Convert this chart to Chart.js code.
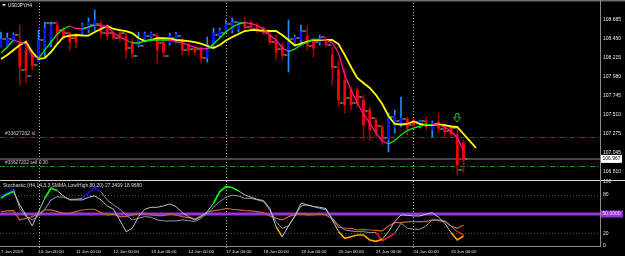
<!DOCTYPE html>
<html>
<head>
<meta charset="utf-8">
<script src="https://cdn.jsdelivr.net/npm/chart.js@4.4.1/dist/chart.umd.min.js"></script>
<style>
  html, body { margin: 0; padding: 0; background: #000; overflow: hidden; }
  #wrap { position: relative; width: 625px; height: 256px; background: #000; }
  #main { position: absolute; left: 0; top: 0; }
  #sub { position: absolute; left: 0; top: 176px; }
</style>
</head>
<body>
<div id="wrap">
  <canvas id="main" width="625" height="181"></canvas>
  <canvas id="sub" width="625" height="80"></canvas>
</div>
<script>
// USDJPY H4, 7 Jun - 25 Jun 2019, one entry per bar
var dayLabels = ['7 Jun 2019', '10 Jun 00:00', '11 Jun 00:00', '12 Jun 00:00', '13 Jun 00:00', '14 Jun 00:00',
  '17 Jun 00:00', '18 Jun 00:00', '19 Jun 00:00', '20 Jun 00:00', '21 Jun 00:00', '24 Jun 00:00', '25 Jun 00:00'];
var dayStartBars = [0, 6, 12, 18, 24, 30, 36, 42, 48, 54, 60, 66, 72];
var weekStartBars = [6, 36, 66];
var priceTicks = [108.685, 108.450, 108.215, 107.980, 107.745, 107.510, 107.275, 107.045, 106.810];
var stochTicks = [0, 20, 50, 80, 100];

var haOpen = [108.351,108.351,108.413,108.401,108.314,108.252,108.166,108.289,108.438,108.623,
  108.574,108.524,108.500,108.524,108.561,108.598,108.636,108.586,108.524,108.524,
  108.487,108.413,108.376,108.438,108.475,108.487,108.413,108.401,108.438,108.438,
  108.388,108.351,108.339,108.215,108.376,108.487,108.561,108.561,108.574,108.660,
  108.648,108.623,108.586,108.500,108.438,108.364,108.314,108.401,108.438,108.487,
  108.438,108.413,108.450,108.252,108.067,107.943,107.819,107.819,107.696,107.572,
  107.448,107.362,107.201,107.349,107.386,107.461,107.448,107.374,107.436,107.325,
  107.424,107.386,107.362,107.263,107.164];
var haHigh = [108.537,108.524,108.524,108.623,108.438,108.289,108.561,108.660,108.660,108.673,
  108.598,108.537,108.524,108.648,108.710,108.809,108.685,108.623,108.537,108.537,
  108.524,108.462,108.537,108.537,108.537,108.524,108.438,108.524,108.537,108.462,
  108.401,108.351,108.351,108.475,108.586,108.586,108.685,108.710,108.660,108.722,
  108.685,108.648,108.598,108.537,108.500,108.401,108.685,108.500,108.623,108.611,
  108.462,108.500,108.475,108.351,108.190,108.091,107.856,107.844,107.757,107.609,
  107.473,107.386,107.535,107.572,107.733,107.485,107.473,107.448,107.485,107.436,
  107.535,107.411,107.386,107.349,107.201];
var haLow = [108.351,108.351,108.413,107.881,107.906,108.067,108.166,108.215,108.351,108.401,
  108.438,108.314,108.339,108.500,108.524,108.561,108.462,108.438,108.438,108.413,
  108.215,108.215,108.351,108.413,108.462,108.153,108.228,108.376,108.401,108.252,
  108.252,108.252,108.153,108.166,108.339,108.462,108.537,108.524,108.537,108.561,
  108.561,108.524,108.500,108.376,108.190,108.190,108.042,108.376,108.401,108.314,
  108.228,108.376,108.351,107.881,107.609,107.535,107.572,107.609,107.201,107.201,
  107.238,107.139,107.052,107.288,107.362,107.263,107.362,107.349,107.325,107.238,
  107.300,107.238,107.238,106.768,106.793];
var haClose = [108.450,108.462,108.500,108.104,108.067,108.129,108.438,108.586,108.623,108.500,
  108.487,108.413,108.413,108.623,108.660,108.685,108.524,108.487,108.462,108.462,
  108.314,108.277,108.462,108.512,108.524,108.314,108.289,108.487,108.512,108.314,
  108.314,108.289,108.215,108.376,108.524,108.561,108.636,108.660,108.648,108.586,
  108.586,108.549,108.524,108.413,108.289,108.252,108.413,108.475,108.537,108.376,
  108.339,108.462,108.388,108.091,107.696,107.634,107.634,107.659,107.386,107.325,
  107.300,107.201,107.473,107.510,107.473,107.349,107.386,107.436,107.362,107.411,
  107.349,107.300,107.275,106.891,106.953];
var barClose = [108.450,108.450,108.500,108.067,107.992,108.129,108.438,108.648,108.648,108.561,
  108.524,108.462,108.500,108.586,108.623,108.636,108.524,108.524,108.462,108.524,
  108.339,108.240,108.364,108.487,108.500,108.401,108.240,108.462,108.487,108.314,
  108.326,108.326,108.215,108.339,108.500,108.524,108.636,108.660,108.648,108.598,
  108.574,108.549,108.524,108.413,108.326,108.252,108.450,108.462,108.549,108.364,
  108.413,108.475,108.376,108.104,107.659,107.720,107.659,107.733,107.560,107.473,
  107.374,107.226,107.485,107.436,107.461,107.386,107.424,107.436,107.386,107.399,
  107.337,107.312,107.349,106.830,106.967];
var fastMA = [108.277,108.351,108.438,108.413,108.388,108.240,108.209,108.314,108.413,108.512,
  108.574,108.611,108.580,108.574,108.598,108.623,108.617,108.605,108.524,108.475,
  108.438,108.401,108.401,108.425,108.438,108.438,108.438,108.438,108.419,108.401,
  108.376,108.351,108.332,108.330,108.388,108.462,108.537,108.598,108.636,108.652,
  108.642,108.617,108.574,108.500,108.438,108.339,108.295,108.326,108.376,108.413,
  108.444,108.444,108.438,108.401,108.277,108.005,107.819,107.659,107.522,107.411,
  107.288,107.189,107.152,107.195,107.263,107.318,107.349,107.368,107.392,107.392,
  107.386,107.362,107.312,107.226,107.077];
// slow MA is shifted 2 bars forward
var slowMA = [108.203,108.252,108.314,108.376,108.413,108.289,108.203,108.215,108.289,108.388,
  108.475,108.493,108.500,108.493,108.493,108.537,108.574,108.611,108.574,108.561,
  108.549,108.524,108.462,108.425,108.438,108.462,108.462,108.456,108.438,108.432,
  108.425,108.413,108.394,108.364,108.339,108.376,108.432,108.475,108.512,108.549,
  108.561,108.561,108.555,108.549,108.549,108.500,108.438,108.370,108.394,108.419,
  108.438,108.438,108.438,108.438,108.388,108.252,108.104,107.968,107.906,107.844,
  107.757,107.646,107.498,107.399,107.393,107.399,107.430,107.399,107.386,107.386,
  107.393,107.386,107.368,107.362,107.275,107.189,107.102];

var slPrice = 107.238;
var sellPrice = 106.879;
var bidPrice = 106.967;
var sellArrowBar = 73;
var sellArrowPrice = 107.473;

var stochMain = [75,81,85,64.2,48.5,31.3,53.7,74.6,90.2,86.6,
  78,72,72,72,76.2,78.2,72,62.6,57.4,40.7,
  22.4,27.7,45.9,57.4,60.5,60.5,62.6,65.7,61.6,52.2,
  45.9,40.7,45.9,53.7,66.8,85,92.8,91.3,86.1,79.8,
  76.2,73,70.9,58.9,30.3,14.6,31.3,46.9,66.8,64.2,
  61.6,60.5,58.4,40.7,22.4,12,14.6,17.2,17.2,9.4,
  7.3,10.4,22.4,38.1,48.5,48,46.9,46.9,49.6,52.2,
  44.9,35.5,21,9.4,15.6];
var stochSignal = [78,82.4,88.7,58.9,45.9,40.7,46.9,57.4,72,77,
  76.2,73,73,74.6,83.5,90.2,85,72,64.2,57.4,
  48.5,40.7,43.3,45.9,44.9,40.7,39.1,39.1,39.1,40.7,
  39.6,38.1,43.3,51.1,60.5,69.4,76.2,79.3,78.2,74.6,
  74.6,72,69.4,56.3,38.1,27.7,31.3,45.9,62.6,64.2,
  61.6,58.9,56.3,43.3,32.9,25,23.5,22.4,22.4,20.9,
  21,8.3,13.6,19.8,35.5,27.7,26.1,26.1,31.3,40.7,
  40.7,39.1,31.3,22.4,17.2];
var stochSlow = [53.7,54.8,55.3,40.7,43.3,45.9,50.1,56.3,56.3,53.7,
  51.1,51.1,53.7,56.3,57.4,57.4,52.2,48.5,49.6,45.9,
  45.9,48.5,50.1,51.1,48.5,47.5,47.5,50.1,48.5,45.9,
  44.3,42.3,46.9,52.7,55.3,56.3,58.9,57.4,56.3,55.3,
  54.8,53.7,52.2,46.9,43.3,40.7,45.9,49,50.6,48.5,
  49,50.1,48.5,42.3,29.2,27.7,27.7,25,26.1,25,
  24.5,23.5,31.3,36.5,36.5,37.6,38.1,38.1,38.1,40.7,
  39.6,38.1,31.3,27.7,32.9];
var stochUpper = 80, stochMid = 50, stochLower = 20;
var stochTitle = 'Stochastic (H4,14,3,3,SMMA,Low/High,80,20) 27.3499 18.9680';

var FONT = '"Liberation Sans", Arial, sans-serif';
var xMin = -0.16, xMax = 95.84;

function pts(arr) {
  return arr.map(function (v, i) { return {x: i, y: v}; });
}
function txt(ctx, s, x, y, color, size, maxW) {
  ctx.save();
  ctx.font = size + 'px ' + FONT;
  ctx.fillStyle = color;
  ctx.textBaseline = 'middle';
  ctx.textAlign = 'left';
  if (maxW) ctx.fillText(s, x, y, maxW); else ctx.fillText(s, x, y);
  ctx.restore();
}
function hline(ctx, y, x0, x1, color, width, dash) {
  ctx.save();
  ctx.strokeStyle = color;
  ctx.lineWidth = width;
  ctx.setLineDash(dash || []);
  ctx.beginPath();
  ctx.moveTo(x0, y);
  ctx.lineTo(x1, y);
  ctx.stroke();
  ctx.restore();
}
function weekLines(chart, y0, y1) {
  var ctx = chart.ctx, xs = chart.scales.x;
  ctx.save();
  ctx.strokeStyle = '#b4b4b4';
  ctx.lineWidth = 1;
  ctx.setLineDash([1, 2]);
  weekStartBars.forEach(function (b) {
    var x = Math.round(xs.getPixelForValue(b)) + 0.5;
    ctx.beginPath();
    ctx.moveTo(x, y0);
    ctx.lineTo(x, y1);
    ctx.stroke();
  });
  ctx.restore();
}
// keep the plot area exactly where the layout puts it
function noLabelPad(s) {
  s.paddingTop = 0; s.paddingBottom = 0; s.paddingLeft = 0; s.paddingRight = 0;
}

var bull = haClose.map(function (c, i) { return c >= haOpen[i]; });

// hollow green sell arrow
var arrowImg = document.createElement('canvas');
arrowImg.width = 8; arrowImg.height = 10;
var ac = arrowImg.getContext('2d');
ac.strokeStyle = '#1fc21f';
ac.lineWidth = 1;
ac.beginPath();
ac.moveTo(2.5, 0.5); ac.lineTo(5.5, 0.5); ac.lineTo(5.5, 4.5); ac.lineTo(7.5, 4.5);
ac.lineTo(4, 9); ac.lineTo(0.5, 4.5); ac.lineTo(2.5, 4.5); ac.closePath();
ac.stroke();

var mainDecor = {
  id: 'mainDecor',
  beforeDatasetsDraw: function (chart) {
    var ctx = chart.ctx, ys = chart.scales.y;
    weekLines(chart, 0, 181);
    hline(ctx, Math.round(ys.getPixelForValue(slPrice)) + 0.5, 0, 600, '#a01c1c', 1, [5, 2, 1, 2]);
    hline(ctx, Math.round(ys.getPixelForValue(sellPrice)) + 0.5, 0, 600, '#14a014', 1, [5, 2, 1, 2]);
    hline(ctx, ys.getPixelForValue(bidPrice), 0, 600, '#464646', 2);
  },
  afterDraw: function (chart) {
    var ctx = chart.ctx, ys = chart.scales.y;
    txt(ctx, '#33627202 sl', 5, ys.getPixelForValue(slPrice) - 3, '#c8c8c8', 5);
    txt(ctx, '#33627202 sell 0.30', 5, ys.getPixelForValue(sellPrice) - 3, '#c8c8c8', 5, 43);
    // title
    ctx.fillStyle = '#e0e0e0';
    ctx.beginPath(); ctx.moveTo(2, 4); ctx.lineTo(6, 4); ctx.lineTo(4, 6.5); ctx.closePath(); ctx.fill();
    txt(ctx, 'USDJPY,H4', 8, 5.5, '#e8e8e8', 5, 24);
    // frame
    ctx.fillStyle = '#6e6e6e';
    ctx.fillRect(0, 0, 625, 1.5);
    ctx.fillStyle = '#8c8c8c';
    ctx.fillRect(600, 0, 1, 181);
    ctx.fillStyle = '#d4d4d4';
    ctx.fillRect(0, 180, 625, 1);
    // bid label
    var by = ys.getPixelForValue(bidPrice);
    ctx.fillStyle = '#ffffff';
    ctx.fillRect(601, by - 4, 21, 8);
    txt(ctx, bidPrice.toFixed(3), 602.5, by, '#000000', 5, 18);
  }
};

new Chart(document.getElementById('main'), {
  type: 'bar',
  data: {
    datasets: [
      {
        type: 'line', showLine: false, order: 8,
        data: barClose.slice(0, -1).map(function (v, i) { return {x: i + 1 - 0.36, y: v}; }),
        pointStyle: 'line', pointRadius: 1.4, pointBorderWidth: 1, pointBorderColor: '#9a9a9a'
      },
      {
        type: 'line', showLine: false, order: 7,
        data: barClose.map(function (v, i) { return {x: i + 0.36, y: v}; }),
        pointStyle: 'line', pointRadius: 1.4, pointBorderWidth: 1, pointBorderColor: '#9a9a9a'
      },
      {
        order: 6, grouped: false, barThickness: 1,
        data: haLow.map(function (l, i) { return {x: i, y: [l, haHigh[i]]}; }),
        backgroundColor: bull.map(function (b) { return b ? '#1e8fff' : '#a00000'; })
      },
      {
        order: 5, grouped: false, barThickness: 2,
        data: haOpen.map(function (o, i) { return {x: i, y: [o, haClose[i]]}; }),
        backgroundColor: bull.map(function (b) { return b ? '#0a14ff' : '#ff0000'; })
      },
      {
        type: 'line', order: 4, data: pts(slowMA), borderColor: '#ffff00', borderWidth: 1.8,
        pointRadius: 0, tension: 0
      },
      {
        type: 'line', order: 3, data: pts(fastMA), borderWidth: 1.3, pointRadius: 0, tension: 0,
        borderColor: '#00ff00',
        segment: {
          borderColor: function (c) { return c.p1.parsed.y >= c.p0.parsed.y ? '#00f000' : '#ff1493'; }
        }
      },
      {
        type: 'line', showLine: false, order: 1,
        data: [{x: sellArrowBar, y: sellArrowPrice}],
        pointStyle: arrowImg, pointRadius: 4
      }
    ]
  },
  options: {
    responsive: false, animation: false, devicePixelRatio: 1,
    layout: {autoPadding: false, padding: {top: 2, bottom: 2, left: 0, right: 0}},
    plugins: {legend: {display: false}, tooltip: {enabled: false}},
    scales: {
      x: {type: 'linear', min: xMin, max: xMax, offset: false, display: false},
      y: {
        position: 'right', min: 106.7185, max: 108.908,
        grid: {display: false, drawTicks: false}, border: {display: false},
        afterBuildTicks: function (s) { s.ticks = priceTicks.map(function (v) { return {value: v}; }); },
        afterFit: function (s) { s.width = 25; noLabelPad(s); },
        ticks: {
          color: '#e6e6e6', padding: 3, font: {family: FONT, size: 5},
          callback: function (v) { return v.toFixed(3); }
        }
      }
    }
  },
  plugins: [mainDecor]
});

var subDecor = {
  id: 'subDecor',
  beforeDatasetsDraw: function (chart) {
    var ctx = chart.ctx, ys = chart.scales.y;
    weekLines(chart, 5, 73);
    hline(ctx, Math.round(ys.getPixelForValue(stochUpper)) + 0.5, 0, 600, '#3e503e', 1, [1, 2]);
    hline(ctx, Math.round(ys.getPixelForValue(stochLower)) + 0.5, 0, 600, '#3e503e', 1, [1, 2]);
    hline(ctx, ys.getPixelForValue(stochMid), 0, 600, '#9632dc', 3);
  },
  afterDraw: function (chart) {
    var ctx = chart.ctx, ys = chart.scales.y;
    txt(ctx, stochTitle, 3, 9, '#d8d8d8', 5.5, 139);
    ctx.fillStyle = '#8c8c8c';
    ctx.fillRect(600, 0, 1, 71);
    ctx.fillRect(0, 70, 601, 1);
    var my = ys.getPixelForValue(stochMid);
    ctx.fillStyle = '#9632dc';
    ctx.fillRect(601, my - 3.5, 22, 7);
    txt(ctx, stochMid.toFixed(4), 602.5, my, '#f0e8ff', 5, 19);
  }
};

function zoneColor(upColor, downColor, midColor) {
  return function (c) {
    var v = c.p1.parsed.y;
    if (v >= stochUpper) return upColor;
    if (v <= stochLower) return downColor;
    return midColor;
  };
}
function zoneWidth(c) {
  var v = c.p1.parsed.y;
  return (v >= stochUpper || v <= stochLower) ? 1.6 : 1;
}

new Chart(document.getElementById('sub'), {
  type: 'line',
  data: {
    datasets: [
      {data: pts(stochSlow), borderColor: '#c8642c', borderWidth: 1.2, pointRadius: 0, tension: 0, order: 3},
      {
        data: pts(stochSignal), borderColor: '#8a9aae', borderWidth: 1, pointRadius: 0, tension: 0, order: 2,
        segment: {borderColor: zoneColor('#1010ff', '#ff1010', '#8a9aae'), borderWidth: zoneWidth}
      },
      {
        data: pts(stochMain), borderColor: '#b8c4d2', borderWidth: 1, pointRadius: 0, tension: 0, order: 1,
        segment: {borderColor: zoneColor('#00ff00', '#ffa500', '#b8c4d2'), borderWidth: zoneWidth}
      }
    ]
  },
  options: {
    responsive: false, animation: false, devicePixelRatio: 1,
    layout: {autoPadding: false, padding: {top: 6, bottom: 0, left: 0, right: 0}},
    plugins: {legend: {display: false}, tooltip: {enabled: false}},
    scales: {
      x: {
        type: 'linear', min: xMin, max: xMax, offset: false,
        grid: {display: false, drawTicks: false}, border: {display: false},
        afterBuildTicks: function (s) { s.ticks = dayStartBars.map(function (v) { return {value: v}; }); },
        afterFit: function (s) { s.height = 10; noLabelPad(s); },
        ticks: {
          align: 'start', autoSkip: false, maxRotation: 0, minRotation: 0, padding: 3,
          color: '#e0e0e0', font: {family: FONT, size: 4.4},
          callback: function (v, i) { return dayLabels[i]; }
        }
      },
      y: {
        position: 'right', min: 0, max: 100,
        grid: {display: false, drawTicks: false}, border: {display: false},
        afterBuildTicks: function (s) { s.ticks = stochTicks.map(function (v) { return {value: v}; }); },
        afterFit: function (s) { s.width = 25; noLabelPad(s); },
        ticks: {color: '#e0e0e0', padding: 3, font: {family: FONT, size: 5}}
      }
    }
  },
  plugins: [subDecor]
});
</script>
</body>
</html>
